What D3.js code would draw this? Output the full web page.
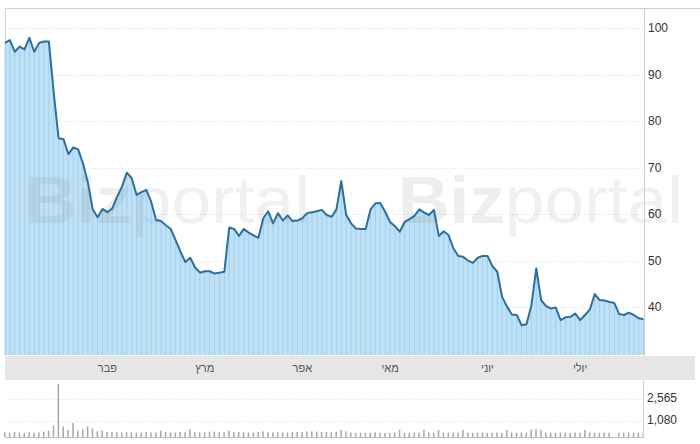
<!DOCTYPE html>
<html>
<head>
<meta charset="utf-8">
<script src="https://cdnjs.cloudflare.com/ajax/libs/d3/7.8.5/d3.min.js"></script>
<style>
  body { margin: 0; background: #fff; }
  text { font-family: Arial, "Liberation Sans", sans-serif; }
</style>
</head>
<body>
<div id="chart"></div>
<script>
// data ---------------------------------------------------------
// closing price per trading day (Jan .. mid July)
var prices = [
  96.8, 97.4, 94.9, 96.0, 95.4, 97.9, 94.9, 96.8, 97.1, 97.1,
  86.0, 76.3, 76.1, 72.9, 74.3, 73.9, 70.9, 66.8, 61.0, 59.3,
  61.1, 60.4, 61.2, 63.7, 65.9, 68.9, 67.7, 64.1, 64.7, 65.2,
  62.6, 58.7, 58.5, 57.6, 56.8, 54.4, 51.9, 49.7, 50.6, 48.5,
  47.4, 47.7, 47.7, 47.2, 47.4, 47.6, 57.1, 56.8, 55.3, 56.8,
  56.0, 55.4, 54.9, 59.1, 60.6, 58.0, 60.2, 58.6, 59.7, 58.5,
  58.6, 59.1, 60.2, 60.4, 60.6, 60.9, 59.8, 59.4, 61.0, 67.1,
  59.8, 58.0, 56.9, 56.8, 56.8, 61.0, 62.3, 62.4, 60.5, 58.3,
  57.4, 56.2, 58.3, 58.9, 59.6, 61.0, 60.3, 59.8, 60.9, 55.3,
  56.3, 55.5, 52.6, 51.0, 50.8, 50.0, 49.5, 50.6, 51.0, 51.0,
  48.8, 47.6, 42.2, 40.1, 38.4, 38.3, 36.1, 36.3, 40.4, 48.3,
  41.5, 40.2, 39.7, 39.9, 37.2, 37.8, 37.9, 38.6, 37.2, 38.3,
  39.5, 42.8, 41.5, 41.4, 41.1, 40.9, 38.5, 38.3, 38.8, 38.3,
  37.6, 37.4
];

// traded volume per day
var volumes = [
  320, 280, 350, 300, 260, 330, 290, 310, 360, 420,
  750, 3550, 700, 480, 950, 420, 500, 700, 560, 380,
  450, 340, 360, 320, 300, 330, 310, 290, 300, 350,
  310, 300, 420, 330, 310, 300, 340, 320, 520, 330,
  300, 310, 340, 360, 330, 320, 420, 350, 330, 320,
  310, 300, 340, 380, 320, 300, 330, 310, 300, 320,
  330, 340, 360, 380, 350, 330, 340, 320, 360, 480,
  380, 300, 280, 290, 270, 280, 300, 290, 270, 280,
  300, 480, 290, 280, 300, 290, 470, 300, 280, 460,
  290, 280, 300, 290, 480, 300, 280, 290, 300, 280,
  290, 300, 280, 460, 290, 280, 300, 290, 500, 520,
  480, 300, 290, 280, 300, 290, 280, 300, 290, 470,
  300, 290, 280, 300, 290, 0, 280, 290, 300, 280,
  290, 300
];

// month labels and the trading day where each month starts
var monthLabels = ["פבר", "מרץ", "אפר", "מאי", "יוני", "יולי"];
var monthIndex = [21, 41, 61, 79, 99, 118];

var priceTicks = [40, 50, 60, 70, 80, 90, 100];
var volumeTicks = [1080, 2565];

// 1. svg ------------------------------------------------------
var svgWidth = 700;
var svgHeight = 444;

var left = 5;
var right = 644;

var svg = d3.select("#chart")
  .append("svg")
  .attr("width", svgWidth)
  .attr("height", svgHeight);

// scales
var xScale = d3.scaleLinear()
  .domain([0, prices.length - 1])
  .range([left, right - 0.5]);

var yScale = d3.scaleLinear()
  .domain([29.7, 100])
  .range([355, 28]);

var vScale = d3.scaleLinear()
  .domain([0, 2565])
  .range([437, 398.5]);

// 2. frame + grid ---------------------------------------------
svg.append("line")
  .attr("x1", left).attr("x2", svgWidth)
  .attr("y1", 8.5).attr("y2", 8.5)
  .attr("stroke", "#d0d0d0");

svg.append("line")
  .attr("x1", left + 0.5).attr("x2", left + 0.5)
  .attr("y1", 8).attr("y2", 356)
  .attr("stroke", "#d8d8d8");

var grid = svg.append("g");
grid.selectAll("line").data(priceTicks).enter().append("line")
  .attr("x1", left).attr("x2", right)
  .attr("y1", d => Math.round(yScale(d)) + 0.5)
  .attr("y2", d => Math.round(yScale(d)) + 0.5)
  .attr("stroke", "#d5dde6")
  .attr("stroke-dasharray", "1,2");

// 3. price area -----------------------------------------------
var area = d3.area()
  .x((d, i) => xScale(i))
  .y0(yScale(29.7))
  .y1(d => yScale(d));

var line = d3.line()
  .x((d, i) => xScale(i))
  .y(d => yScale(d));

svg.append("path")
  .datum(prices)
  .attr("d", area)
  .attr("fill", "#bfe1f6");

// vertical stripes at each day
svg.append("g").selectAll("line").data(prices).enter().append("line")
  .attr("x1", (d, i) => xScale(i))
  .attr("x2", (d, i) => xScale(i))
  .attr("y1", d => yScale(d))
  .attr("y2", yScale(29.7))
  .attr("stroke", "#a3d0ec")
  .attr("stroke-width", 1);

// watermark (stretched like the logo)
var marks = svg.append("g").attr("fill", "#8a8a8a");
[25, 398].forEach(function(x0) {
  var t = marks.append("text")
    .attr("x", x0)
    .attr("y", 223)
    .attr("textLength", 285)
    .attr("lengthAdjust", "spacingAndGlyphs")
    .style("font-size", "66px");
  t.append("tspan").attr("font-weight", "bold").attr("fill-opacity", 0.15).text("Biz");
  t.append("tspan").attr("font-weight", "normal").attr("fill-opacity", 0.13).text("portal");
});

svg.append("path")
  .datum(prices)
  .attr("d", line)
  .attr("fill", "none")
  .attr("stroke", "#2b6f9f")
  .attr("stroke-width", 2)
  .attr("stroke-linejoin", "round");

// right price axis
svg.append("line")
  .attr("x1", right + 0.5).attr("x2", right + 0.5)
  .attr("y1", 8).attr("y2", 356)
  .attr("stroke", "#cfcfcf");

svg.append("g").selectAll("text").data(priceTicks).enter().append("text")
  .attr("x", right + 4)
  .attr("y", d => yScale(d))
  .attr("dy", "0.35em")
  .attr("fill", "#333")
  .style("font-size", "12px")
  .text(d => d);

// 4. month band -----------------------------------------------
svg.append("rect")
  .attr("x", left)
  .attr("y", 356)
  .attr("width", 695 - left)
  .attr("height", 24)
  .attr("fill", "#e6e6e6");

svg.append("g").selectAll("text").data(monthLabels).enter().append("text")
  .attr("x", (d, i) => xScale(monthIndex[i]))
  .attr("y", 368)
  .attr("dy", "0.35em")
  .attr("text-anchor", "middle")
  .attr("fill", "#555")
  .style("font-size", "11px")
  .text(d => d);

// 5. volume panel ---------------------------------------------
svg.append("g").selectAll("line").data(volumeTicks).enter().append("line")
  .attr("x1", left).attr("x2", right)
  .attr("y1", d => Math.round(vScale(d)) + 0.5)
  .attr("y2", d => Math.round(vScale(d)) + 0.5)
  .attr("stroke", "#d5dde6")
  .attr("stroke-dasharray", "1,2");

svg.append("g").selectAll("rect").data(volumes).enter().append("rect")
  .attr("x", (d, i) => xScale(i) - 1)
  .attr("y", d => vScale(d))
  .attr("width", 1.5)
  .attr("height", d => vScale(0) - vScale(d))
  .attr("fill", "#a8a8a8");

svg.append("line")
  .attr("x1", left).attr("x2", right)
  .attr("y1", 437.5).attr("y2", 437.5)
  .attr("stroke", "#bdbdbd");

svg.append("line")
  .attr("x1", right - 0.5).attr("x2", right - 0.5)
  .attr("y1", 380).attr("y2", 438)
  .attr("stroke", "#cfcfcf");

svg.append("g").selectAll("text").data(volumeTicks).enter().append("text")
  .attr("x", right + 3)
  .attr("y", d => vScale(d) - 1)
  .attr("dy", "0.35em")
  .attr("fill", "#333")
  .style("font-size", "12px")
  .text(d => d3.format(",")(d));
</script>
</body>
</html>
